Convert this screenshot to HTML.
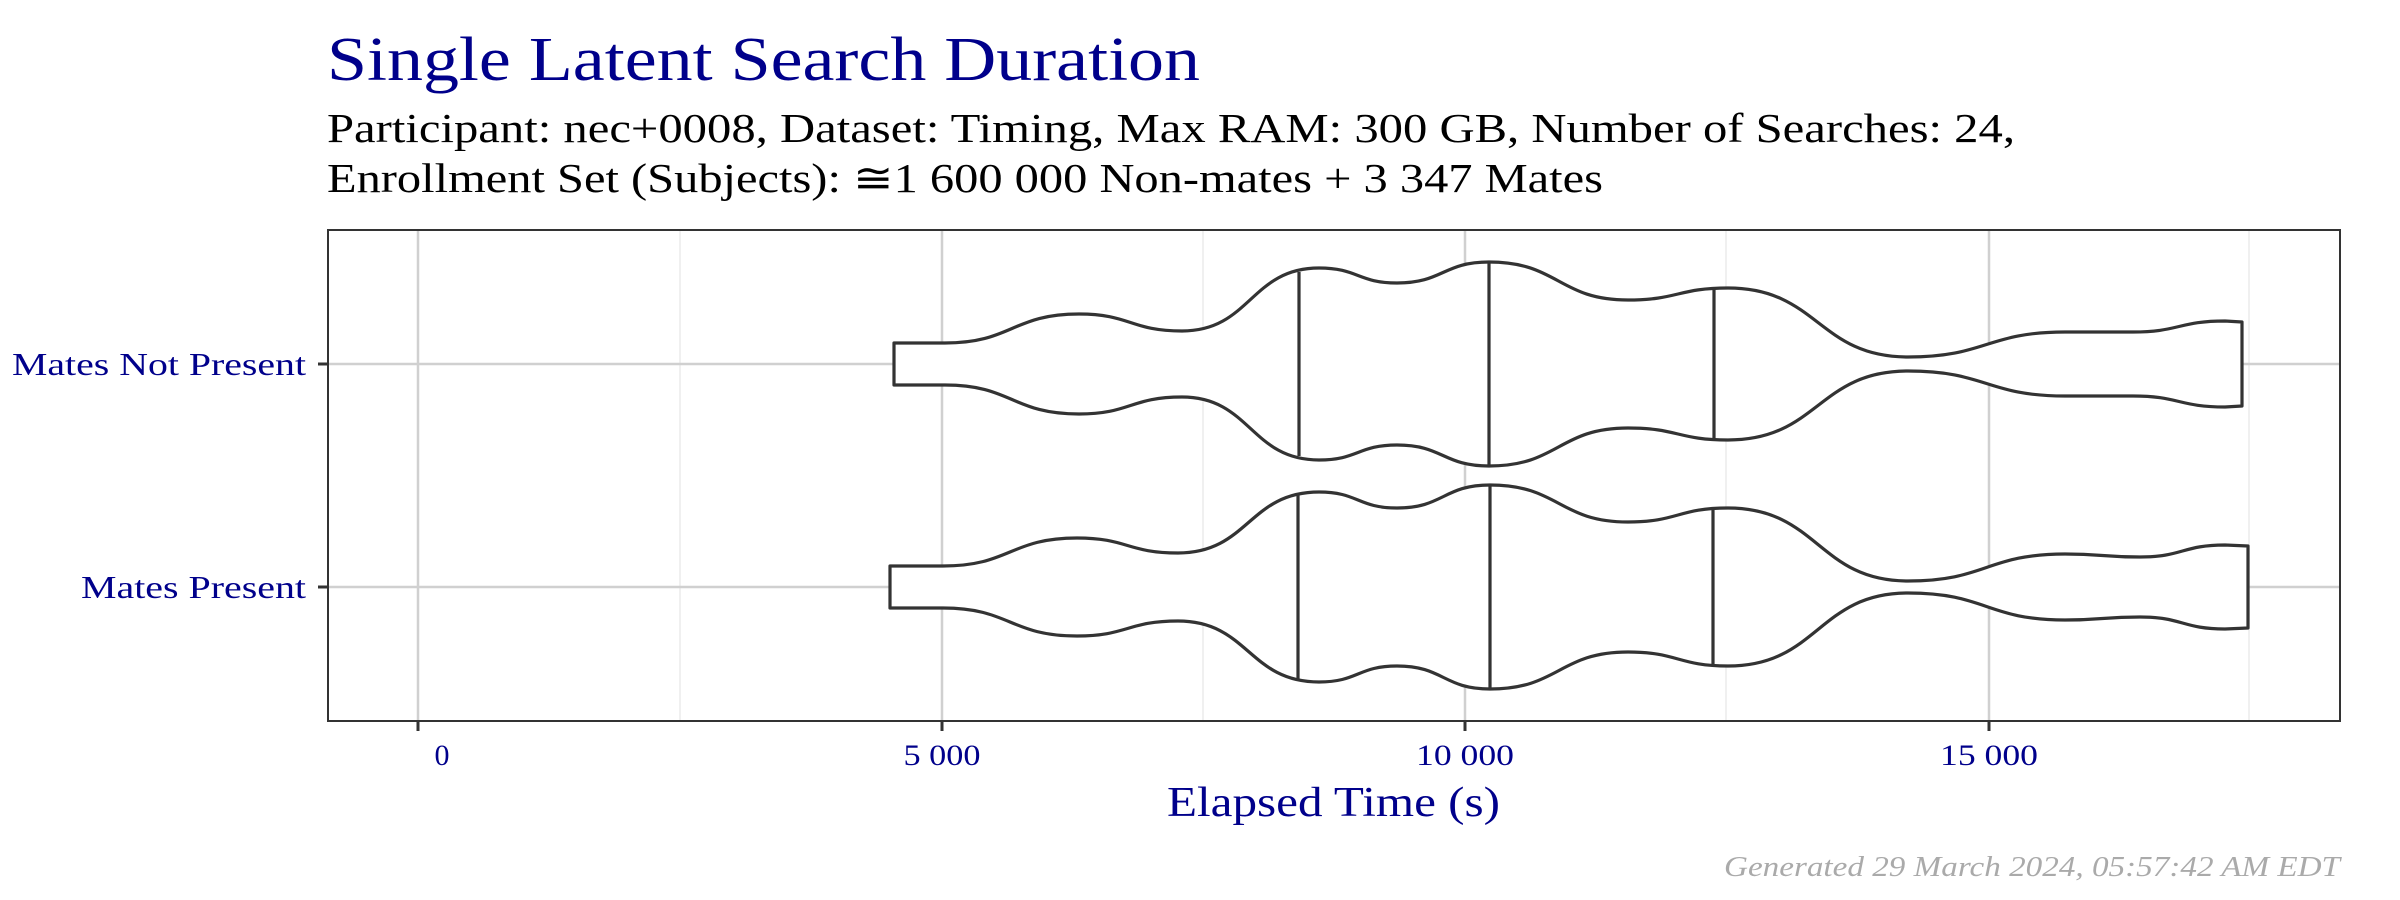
<!DOCTYPE html>
<html><head><meta charset="utf-8"><style>
html,body{margin:0;padding:0;background:#fff;}
svg{display:block;}
text{font-family:"Liberation Serif",serif;}
</style></head><body>
<svg width="2400" height="900" viewBox="0 0 2400 900" xmlns="http://www.w3.org/2000/svg">
<rect width="2400" height="900" fill="#fff"/>
<text x="327" y="80" font-size="62" fill="#00008B" textLength="873" lengthAdjust="spacingAndGlyphs">Single Latent Search Duration</text>
<text x="327" y="142" font-size="41" fill="#000" textLength="1688" lengthAdjust="spacingAndGlyphs">Participant: nec+0008, Dataset: Timing, Max RAM: 300 GB, Number of Searches: 24,</text>
<text x="327" y="192" font-size="41" fill="#000" textLength="1276" lengthAdjust="spacingAndGlyphs">Enrollment Set (Subjects): ≅1 600 000 Non-mates + 3 347 Mates</text>
<g stroke="#ebebeb" stroke-width="1.5">
<line x1="680" y1="230" x2="680" y2="721"/><line x1="1203" y1="230" x2="1203" y2="721"/><line x1="1726" y1="230" x2="1726" y2="721"/><line x1="2249" y1="230" x2="2249" y2="721"/>
</g>
<g stroke="#d0d0d0" stroke-width="2.5">
<line x1="418" y1="230" x2="418" y2="721"/><line x1="942" y1="230" x2="942" y2="721"/><line x1="1465" y1="230" x2="1465" y2="721"/><line x1="1989" y1="230" x2="1989" y2="721"/>
<line x1="328" y1="364" x2="2340" y2="364"/><line x1="328" y1="587" x2="2340" y2="587"/>
</g>
<g fill="#fff" stroke="#333" stroke-width="3.2" stroke-linejoin="round">
<path d="M894,343 L945,343 C1012,343 1012,314 1079,314 C1130.5,314 1130.5,331 1182,331 C1250.5,331 1250.5,268 1319,268 C1358,268 1358,283 1397,283 C1443,283 1443,262 1489,262 C1558.5,262 1558.5,300 1628,300 C1678,300 1678,288 1728,288 C1818,288 1818,357 1908,357 C1986.5,357 1986.5,332 2065,332 L2133,332 C2179,332 2179,321 2225,321 L2242,322 L2242,406 L2225,407 C2179,407 2179,396 2133,396 L2065,396 C1986.5,396 1986.5,371 1908,371 C1818,371 1818,440 1728,440 C1678,440 1678,428 1628,428 C1558.5,428 1558.5,466 1489,466 C1443,466 1443,445 1397,445 C1358,445 1358,460 1319,460 C1250.5,460 1250.5,397 1182,397 C1130.5,397 1130.5,414 1079,414 C1012,414 1012,385 945,385 L894,385 Z"/>
<line x1="1299" y1="272" x2="1299" y2="456"/><line x1="1489" y1="262" x2="1489" y2="466"/><line x1="1714" y1="289" x2="1714" y2="439"/>
<path d="M890,566 L943,566 C1010,566 1010,538 1077,538 C1127.5,538 1127.5,553 1178,553 C1248.5,553 1248.5,492 1319,492 C1358,492 1358,508 1397,508 C1443.5,508 1443.5,485 1490,485 C1559,485 1559,522 1628,522 C1678,522 1678,508 1728,508 C1818,508 1818,581 1908,581 C1986.5,581 1986.5,554 2065,554 C2102.5,554 2102.5,557 2140,557 C2182.5,557 2182.5,545 2225,545 L2248,546 L2248,628 L2225,629 C2182.5,629 2182.5,617 2140,617 C2102.5,617 2102.5,620 2065,620 C1986.5,620 1986.5,593 1908,593 C1818,593 1818,666 1728,666 C1678,666 1678,652 1628,652 C1559,652 1559,689 1490,689 C1443.5,689 1443.5,666 1397,666 C1358,666 1358,682 1319,682 C1248.5,682 1248.5,621 1178,621 C1127.5,621 1127.5,636 1077,636 C1010,636 1010,608 943,608 L890,608 Z"/>
<line x1="1298" y1="494" x2="1298" y2="680"/><line x1="1490" y1="485" x2="1490" y2="689"/><line x1="1713" y1="510" x2="1713" y2="664"/>
</g>
<rect x="328" y="230" width="2012" height="491" fill="none" stroke="#333" stroke-width="2"/>
<g stroke="#333" stroke-width="3">
<line x1="318" y1="364" x2="328" y2="364"/><line x1="318" y1="587" x2="328" y2="587"/>
<line x1="418" y1="721" x2="418" y2="731"/><line x1="942" y1="721" x2="942" y2="731"/><line x1="1465" y1="721" x2="1465" y2="731"/><line x1="1989" y1="721" x2="1989" y2="731"/>
</g>
<text x="306" y="375" font-size="32" fill="#00008B" text-anchor="end" textLength="294" lengthAdjust="spacingAndGlyphs">Mates Not Present</text>
<text x="306" y="598" font-size="32" fill="#00008B" text-anchor="end" textLength="225" lengthAdjust="spacingAndGlyphs">Mates Present</text>
<g font-size="30" fill="#00008B" text-anchor="middle">
<text x="442" y="765">0</text>
<text x="942" y="765" textLength="77" lengthAdjust="spacingAndGlyphs">5 000</text>
<text x="1465" y="765" textLength="98" lengthAdjust="spacingAndGlyphs">10 000</text>
<text x="1989" y="765" textLength="98" lengthAdjust="spacingAndGlyphs">15 000</text>
</g>
<text x="1167" y="816" font-size="42" fill="#00008B" textLength="333" lengthAdjust="spacingAndGlyphs">Elapsed Time (s)</text>
<text x="2340" y="876" font-size="29" fill="#aaa" font-style="italic" text-anchor="end" textLength="616" lengthAdjust="spacingAndGlyphs">Generated 29 March 2024, 05:57:42 AM EDT</text>
</svg>
</body></html>
